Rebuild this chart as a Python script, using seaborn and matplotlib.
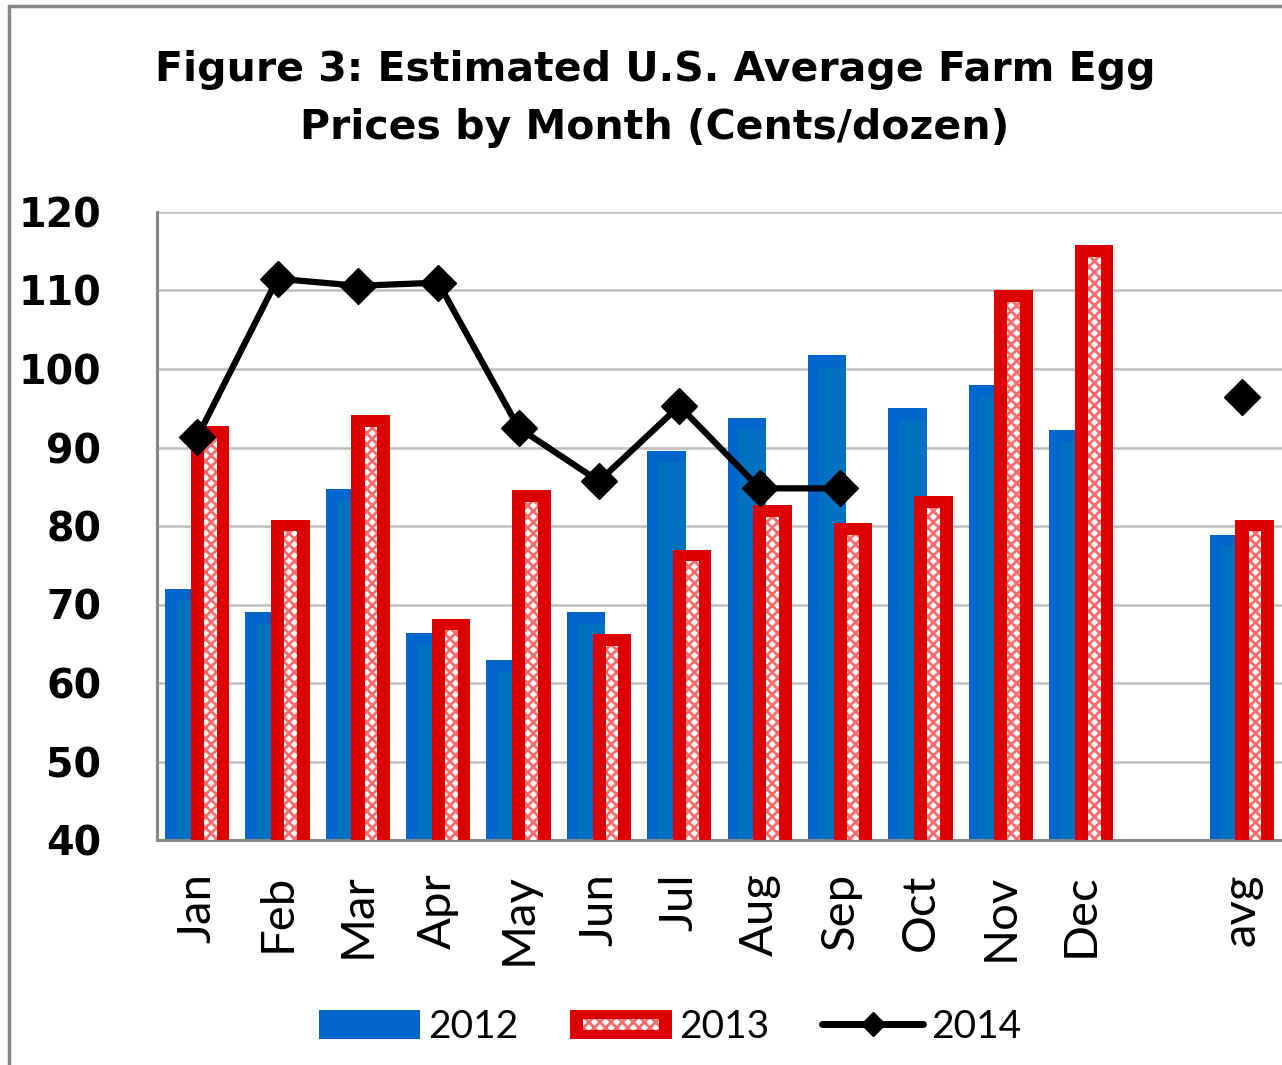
import numpy as np
import pandas as pd
import matplotlib.pyplot as plt
import seaborn as sns
from matplotlib.patches import Rectangle, Patch
from matplotlib.lines import Line2D
from matplotlib.legend_handler import HandlerPatch, HandlerTuple

months = ['Jan', 'Feb', 'Mar', 'Apr', 'May', 'Jun', 'Jul', 'Aug', 'Sep',
          'Oct', 'Nov', 'Dec', '', 'avg']
p2012 = [72, 69, 84.7, 66.4, 62.9, 69, 89.6, 93.8, 101.8, 95, 98, 92.2, np.nan, 78.9]
p2013 = [92.7, 80.8, 94.1, 68.2, 84.6, 66.2, 77, 82.7, 80.4, 83.8, 110, 115.8, np.nan, 80.8]
p2014 = [91.3, 111.5, 110.6, 111, 92.5, 85.7, 95.3, 84.8, 84.8,
         np.nan, np.nan, np.nan, np.nan, 96.4]

blue = '#0066CC'
blue_in = '#0070C0'
red = '#DC0000'
gray = '#878787'

sns.set_style('white')
plt.rcParams['font.family'] = ['DejaVu Sans']
plt.rcParams['text.color'] = 'black'
plt.rcParams['xtick.labelcolor'] = 'black'
plt.rcParams['ytick.labelcolor'] = 'black'
plt.rcParams['hatch.linewidth'] = 2.0

df = pd.DataFrame({'month': months * 2,
                   'year': ['2012'] * 14 + ['2013'] * 14,
                   'price': p2012 + p2013}).dropna()

fig = plt.figure(figsize=(12.82, 10.65), dpi=100)
ax = fig.add_axes([157 / 1282, 1 - 840 / 1065, 1 - 157 / 1282, (840 - 212) / 1065])

sns.barplot(data=df, x='month', y='price', hue='year', order=months,
            palette=[blue, red], saturation=1, errorbar=None, width=0.8, ax=ax,
            legend=False)

# widen bars so they overlap a little, like the original
bw = 0.48
for k, cont in enumerate(ax.containers):
    for p in cont:
        c = p.get_x() + p.get_width() / 2
        c = round(c) + (-0.16 if k == 0 else 0.16)
        p.set_width(bw)
        p.set_x(c - bw / 2)
        p.set_linewidth(0)
        h = p.get_height()
        if k == 0:
            p.set_zorder(2)
            ax.add_patch(Rectangle((c - bw / 2 + 0.28 * bw, 0), 0.72 * bw, h - 1.5,
                                   facecolor=blue_in, lw=0, zorder=2.1))
        else:
            p.set_zorder(3)
            ax.add_patch(Rectangle((c - 0.16 * bw, 0), 0.33 * bw, h - 1.5,
                                   facecolor='white', edgecolor='#FF6A6A', hatch='xxx',
                                   lw=0, zorder=3.1))

ax.plot(range(len(months)), p2014, color='black', lw=4.5, marker='D', ms=18, zorder=5)

ax.set_xlim(-0.5, len(months) - 0.5)
ax.set_ylim(40, 120)
ax.set_yticks(range(40, 121, 10))
ax.yaxis.grid(True, color='#BFBFBF', lw=1.8)
ax.set_axisbelow(True)
ax.set_xlabel('')
ax.set_ylabel('')

for s in ['top', 'right']:
    ax.spines[s].set_visible(False)
for s in ['left', 'bottom']:
    ax.spines[s].set_color(gray)
    ax.spines[s].set_linewidth(2.2)

ax.set_xticks(np.arange(len(months)))
ax.set_xticklabels(months, rotation=90, fontsize=34, family='Lato')
ax.set_xticks(np.arange(-0.5, len(months), 1), minor=True)
ax.tick_params(axis='x', which='major', length=0, pad=24)
ax.tick_params(axis='x', which='minor', length=12, width=2.2, color=gray, direction='out')
ax.tick_params(axis='y', length=14, width=2.2, color=gray, direction='out', pad=26,
               labelsize=28.5)
for t in ax.get_yticklabels():
    t.set_fontweight('bold')

fig.text(655 / 1282, 1 - 99 / 1065,
         'Figure 3: Estimated U.S. Average Farm Egg\nPrices by Month (Cents/dozen)',
         ha='center', va='center', fontsize=29.5, fontweight='bold', linespacing=1.6)

# legend
h12 = Patch(facecolor=blue, lw=0)
h13 = Patch(facecolor=red, lw=0)
h13s = Patch(facecolor='white', edgecolor='#FF6A6A', hatch='xxx', lw=0)
h14 = Line2D([], [], color='black', lw=5, marker='D', ms=12)


def strip(legend, orig_handle, xdescent, ydescent, width, height, fontsize):
    return Rectangle((-xdescent + 0.12 * width, -ydescent + 0.33 * height),
                     0.76 * width, 0.36 * height)


fig.legend([h12, (h13, h13s), h14], ['2012', '2013', '2014'],
           handler_map={h13s: HandlerPatch(patch_func=strip),
                        tuple: HandlerTuple(ndivide=1, pad=0)},
           loc='center', bbox_to_anchor=(670 / 1282, 1 - 1027 / 1065),
           ncol=3, frameon=False, prop={'family': 'Lato', 'size': 28},
           handlelength=2.6, handleheight=0.8, handletextpad=0.2, columnspacing=1.35)

# outer frame
fig.add_artist(Line2D([9 / 1282, 9 / 1282], [0, 1 - 6 / 1065], color=gray, lw=2.5,
                      transform=fig.transFigure))
fig.add_artist(Line2D([9 / 1282, 1], [1 - 6 / 1065, 1 - 6 / 1065], color=gray, lw=2.5,
                      transform=fig.transFigure))

fig.savefig('out.png', dpi=100)
